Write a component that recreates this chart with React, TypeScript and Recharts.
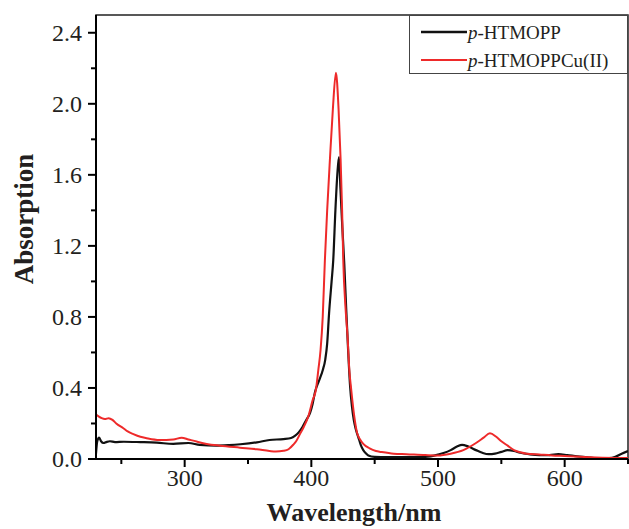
import React from 'react';
import { LineChart, Line, XAxis, YAxis, ReferenceArea, Legend } from 'recharts';

const htmoppWavelength = [230, 231, 232.5, 234, 236, 238, 241, 245, 252, 265, 278, 291, 303, 312, 325, 335, 344, 357, 367, 378, 384, 387, 390, 393, 396, 399, 401, 403, 406, 409, 411, 412.5, 414, 416, 417.3, 419, 420.5, 421.8, 423, 424.5, 426, 427.5, 429, 430.5, 432, 433.5, 435, 437, 439, 441, 443, 445, 450, 460, 480, 490, 500, 505, 510, 515, 519, 524, 530, 535, 540, 545, 550, 555, 560, 565, 572, 580, 588, 595, 602, 610, 618, 625, 635, 640, 645, 650];
const htmoppAbsorption = [0.03, 0.10, 0.12, 0.10, 0.09, 0.095, 0.10, 0.095, 0.097, 0.095, 0.092, 0.085, 0.09, 0.079, 0.075, 0.078, 0.083, 0.094, 0.107, 0.112, 0.118, 0.13, 0.15, 0.18, 0.22, 0.26, 0.31, 0.38, 0.44, 0.50, 0.56, 0.65, 0.82, 1.0, 1.12, 1.40, 1.60, 1.70, 1.52, 1.30, 1.10, 0.85, 0.62, 0.42, 0.30, 0.22, 0.17, 0.125, 0.08, 0.05, 0.032, 0.02, 0.012, 0.01, 0.01, 0.012, 0.025, 0.035, 0.05, 0.07, 0.08, 0.07, 0.05, 0.035, 0.027, 0.03, 0.04, 0.05, 0.045, 0.035, 0.027, 0.022, 0.022, 0.027, 0.022, 0.015, 0.01, 0.005, 0.005, 0.012, 0.03, 0.045];

const cuWavelength = [230, 232, 234.5, 237, 240, 243, 246, 251.6, 255, 259.5, 265, 270, 280, 291, 297.6, 303, 309.5, 317.4, 328, 343.7, 357, 367, 372, 378, 382, 385.7, 388, 391, 394, 397.6, 401, 403.6, 405.5, 407.3, 409, 410.7, 412.5, 414.7, 417, 419.4, 421.5, 423.1, 424.3, 425.2, 427, 428.5, 430, 431.5, 433.9, 436, 438.5, 441, 446, 451, 455, 465, 475, 490, 500, 510, 520, 530, 536, 541, 546, 550, 555, 560, 565, 570, 580, 590, 600, 620, 640, 650];
const cuAbsorption = [0.25, 0.24, 0.23, 0.225, 0.23, 0.22, 0.20, 0.173, 0.155, 0.14, 0.125, 0.117, 0.107, 0.11, 0.12, 0.11, 0.098, 0.085, 0.075, 0.064, 0.055, 0.045, 0.042, 0.046, 0.055, 0.08, 0.10, 0.14, 0.18, 0.24, 0.33, 0.39, 0.50, 0.615, 0.80, 1.12, 1.40, 1.69, 1.97, 2.175, 1.97, 1.69, 1.40, 1.12, 0.85, 0.70, 0.50, 0.39, 0.24, 0.15, 0.11, 0.085, 0.06, 0.045, 0.04, 0.03, 0.027, 0.022, 0.02, 0.03, 0.05, 0.09, 0.12, 0.145, 0.125, 0.10, 0.075, 0.05, 0.038, 0.03, 0.025, 0.02, 0.017, 0.01, 0.006, 0.005];

const xTicks = [250, 300, 350, 400, 450, 500, 550, 600, 650];
const yTicks = [0, 0.2, 0.4, 0.6, 0.8, 1.0, 1.2, 1.4, 1.6, 1.8, 2.0, 2.2, 2.4];
const xDomain = [230, 650];
const yDomain = [0, 2.5];

const seriesNames = ['p-HTMOPP', 'p-HTMOPPCu(II)'];

const htmoppData = htmoppWavelength.map((x, i) => ({ x, y: htmoppAbsorption[i] }));
const cuData = cuWavelength.map((x, i) => ({ x, y: cuAbsorption[i] }));

const FONT = '"Liberation Serif", "Times New Roman", serif';
const TXT = '#231f20';

const X_TICK_SIZE = 8;
const X_TICK_MARGIN = 2;
const Y_TICK_SIZE = 8;
const Y_TICK_MARGIN = 6;

const XTick = (props: any) => {
  const { x, y, payload } = props;
  const v = payload.value;
  const major = Math.round(v) % 100 === 0;
  const axisY = y - X_TICK_SIZE - X_TICK_MARGIN;
  return (
    <g>
      <line x1={x} x2={x} y1={axisY} y2={axisY + (major ? 8 : 5)} stroke="#000" strokeWidth={2} />
      {major && (
        <text x={x} y={y} dy="0.71em" textAnchor="middle" fontFamily={FONT} fontSize={24} fill={TXT}>
          {v}
        </text>
      )}
    </g>
  );
};

const YTick = (props: any) => {
  const { x, y, payload } = props;
  const v = payload.value;
  const major = Math.round(v * 10) % 4 === 0;
  const axisX = x + Y_TICK_SIZE + Y_TICK_MARGIN;
  return (
    <g>
      <line x1={axisX} x2={axisX - (major ? 8 : 5)} y1={y} y2={y} stroke="#000" strokeWidth={2} />
      {major && (
        <text x={x} y={y} dy="0.35em" textAnchor="end" fontFamily={FONT} fontSize={24} fill={TXT}>
          {v.toFixed(1)}
        </text>
      )}
    </g>
  );
};

const LegendBox = (props: any) => {
  const payload = props.payload || [];
  return (
    <div style={{ width: 219, height: 59, border: '1px solid #444', boxSizing: 'border-box', background: '#fff' }}>
      <svg width={217} height={57} style={{ display: 'block' }}>
        {payload.map((p: any, i: number) => {
          const name = String(p.value);
          const rest = name.slice(1);
          const ly = 16 + i * 28;
          return (
            <g key={i}>
              <line x1={11} x2={57} y1={ly} y2={ly} stroke={p.color} strokeWidth={i === 0 ? 2.5 : 2} />
              <text x={58} y={ly + 7} fontFamily={FONT} fontSize={19} fill={TXT}>
                <tspan fontStyle="italic">{name[0]}</tspan>
                <tspan>{rest}</tspan>
              </text>
            </g>
          );
        })}
      </svg>
    </div>
  );
};

const XLabel = (props: any) => {
  const vb = props.viewBox || { x: 0, y: 0, width: 0, height: 0 };
  return (
    <text x={vb.x + vb.width / 2 - 8} y={vb.y + vb.height - 8} textAnchor="middle" fontFamily={FONT} fontSize={26} fontWeight="bold" fill={TXT}>
      Wavelength/nm
    </text>
  );
};

const YLabel = (props: any) => {
  const vb = props.viewBox || { x: 0, y: 0, width: 0, height: 0 };
  const cx = vb.x + 33;
  const cy = vb.y + vb.height / 2 - 18;
  return (
    <text x={cx} y={cy} transform={`rotate(-90, ${cx}, ${cy})`} textAnchor="middle" fontFamily={FONT} fontSize={27} fontWeight="bold" fill={TXT}>
      Absorption
    </text>
  );
};

export default function App() {
  return (
    <div style={{ position: 'absolute', left: 0, top: 0, width: 629, height: 529, background: '#fff' }}>
      <LineChart width={629} height={529} margin={{ top: 15, right: 1, bottom: 0, left: 0 }}>
        <XAxis
          dataKey="x"
          type="number"
          domain={xDomain}
          ticks={xTicks}
          allowDataOverflow
          height={70}
          tickSize={X_TICK_SIZE}
          tickMargin={X_TICK_MARGIN}
          tickLine={false}
          axisLine={{ stroke: '#000', strokeWidth: 2 }}
          tick={<XTick />}
          interval={0}
          label={<XLabel />}
        />
        <YAxis
          type="number"
          domain={yDomain}
          ticks={yTicks}
          allowDataOverflow
          width={96}
          tickSize={Y_TICK_SIZE}
          tickMargin={Y_TICK_MARGIN}
          tickLine={false}
          axisLine={{ stroke: '#000', strokeWidth: 2 }}
          tick={<YTick />}
          interval={0}
          label={<YLabel />}
        />
        <ReferenceArea x1={xDomain[0]} x2={xDomain[1]} y1={yDomain[0]} y2={yDomain[1]} fill="none" stroke="#222" strokeWidth={1.5} />
        <Line
          data={htmoppData}
          dataKey="y"
          name={seriesNames[0]}
          type="monotone"
          stroke="#111"
          strokeWidth={2.2}
          dot={false}
          activeDot={false}
          isAnimationActive={false}
        />
        <Line
          data={cuData}
          dataKey="y"
          name={seriesNames[1]}
          type="monotone"
          stroke="#ee2a2a"
          strokeWidth={2}
          dot={false}
          activeDot={false}
          isAnimationActive={false}
        />
        <Legend
          layout="vertical"
          align="center"
          verticalAlign="middle"
          content={<LegendBox />}
          wrapperStyle={{ left: 409, top: 15, width: 219, height: 59 }}
        />
      </LineChart>
    </div>
  );
}
